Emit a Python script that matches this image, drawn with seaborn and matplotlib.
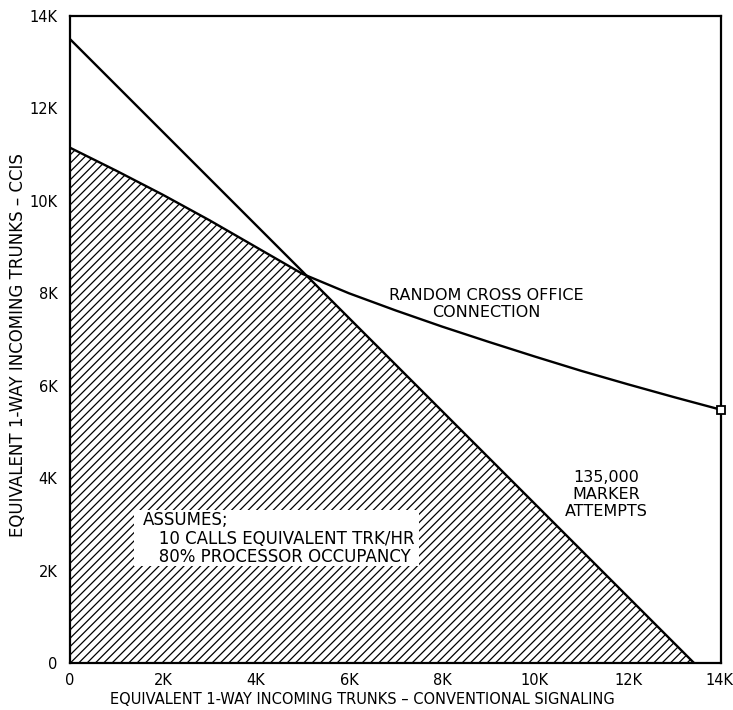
"""Trunk capacity chart: CCIS vs conventional signaling."""

import matplotlib.pyplot as plt
import matplotlib.transforms as mtransforms
import seaborn as sns
from matplotlib.patches import Rectangle
from matplotlib.ticker import MultipleLocator

# values in thousands of trunks
cross_office_x = [0, 1, 2, 3, 4, 5, 6, 7, 8, 9, 10, 11, 12, 13, 14]
cross_office_y = [11.15, 10.65, 10.13, 9.58, 9.0, 8.42, 8.0, 7.63, 7.28, 6.95,
                  6.63, 6.32, 6.03, 5.75, 5.48]

marker_x = [0, 13.42]
marker_y = [13.5, 0]

# shaded (feasible) region: under both limits
region_x = [0, 1, 2, 3, 4, 5.14, 13.42]
region_y = [11.15, 10.65, 10.13, 9.58, 9.0, 8.35, 0]

tick_values = [0, 2, 4, 6, 8, 10, 12, 14]
tick_labels = ["0", "2K", "4K", "6K", "8K", "10K", "12K", "14K"]

sns.set_style("white")
plt.rcParams["font.family"] = ["DejaVu Sans"]
plt.rcParams["text.color"] = "black"
plt.rcParams["axes.labelcolor"] = "black"
plt.rcParams["xtick.color"] = "black"
plt.rcParams["ytick.color"] = "black"
plt.rcParams["hatch.linewidth"] = 0.9

fig = plt.figure(figsize=(7.33, 7.10), dpi=100)
ax = fig.add_axes([70 / 733, 1 - 663 / 710, 651 / 733, 647 / 710])

ax.fill_between(region_x, region_y, 0, facecolor="white", edgecolor="black",
                hatch="////", linewidth=0)
sns.lineplot(x=marker_x, y=marker_y, color="black", linewidth=1.7, ax=ax)
sns.lineplot(x=cross_office_x, y=cross_office_y, color="black", linewidth=1.7,
             sort=False, ax=ax)
ax.plot(cross_office_x[-1:], cross_office_y[-1:], marker="s", markersize=6,
        markerfacecolor="white", markeredgecolor="black", markeredgewidth=1.3,
        clip_on=False, zorder=5)

ax.set_xlim(0, 14)
ax.set_ylim(0, 14)
ax.set_xticks(tick_values)
ax.set_xticklabels(tick_labels)
ax.set_yticks(tick_values)
ax.set_yticklabels(tick_labels)
ax.xaxis.set_minor_locator(MultipleLocator(1))
ax.yaxis.set_minor_locator(MultipleLocator(1))
ax.tick_params(which="both", direction="in", length=7, width=1.2,
               top=False, right=False, labelsize=10.5)
ax.tick_params(axis="x", pad=7)
ax.tick_params(axis="y", pad=9)
# keep the last x label inside the figure
last = ax.get_xticklabels()[-1]
last.set_transform(last.get_transform() +
                   mtransforms.ScaledTranslation(-2 / 100, 0, fig.dpi_scale_trans))
for spine in ax.spines.values():
    spine.set_linewidth(1.6)
    spine.set_color("black")

ax.set_xlabel("EQUIVALENT 1-WAY INCOMING TRUNKS – CONVENTIONAL SIGNALING",
              fontsize=10.5)
ax.xaxis.set_label_coords(0.449, -0.057)
ax.xaxis.label.set_va("center")
ax.set_ylabel("EQUIVALENT 1-WAY INCOMING TRUNKS – CCIS", fontsize=12)
ax.yaxis.set_label_coords(-0.080, 0.492)
ax.yaxis.label.set_va("center")

ax.text(8.95, 7.77, "RANDOM CROSS OFFICE\nCONNECTION", ha="center", va="center",
        fontsize=11.5, linespacing=1.15)
ax.text(11.53, 3.64, "135,000\nMARKER\nATTEMPTS", ha="center", va="center",
        fontsize=11.5, linespacing=1.15)

# white label box over the hatching
ax.add_patch(Rectangle((1.38, 2.10), 6.12, 1.22, facecolor="white",
                       edgecolor="none", zorder=5))
ax.text(1.57, 2.69, "ASSUMES;\n   10 CALLS EQUIVALENT TRK/HR\n   80% PROCESSOR OCCUPANCY",
        ha="left", va="center", fontsize=12, linespacing=1.02, zorder=6)

fig.savefig("out.png", dpi=100)
plt.close(fig)
